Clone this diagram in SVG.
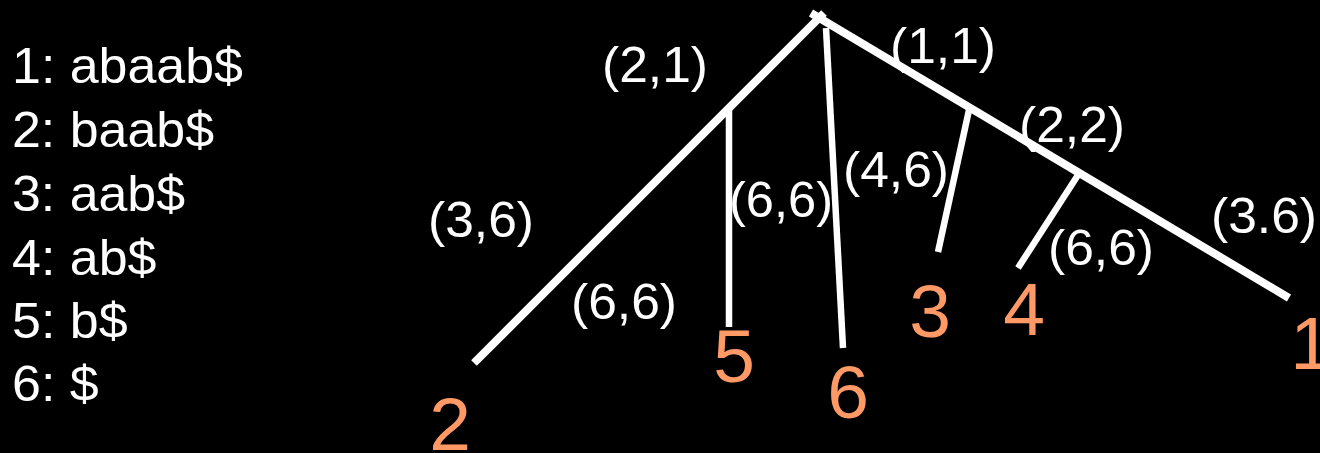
<svg xmlns="http://www.w3.org/2000/svg" width="1320" height="453" viewBox="0 0 1320 453">
<style>
.list{font-family:"Liberation Sans",Arial,sans-serif;font-size:50px;fill:#ffffff}
.lbl{font-family:"Liberation Sans",Arial,sans-serif;font-size:50px;fill:#ffffff}
.leaf{font-family:"Liberation Sans",Arial,sans-serif;font-size:75px;fill:#ff9966;text-anchor:middle}
.edge{stroke:#ffffff;fill:none;stroke-linecap:butt}
.thick{stroke-width:8}
.thin{stroke-width:6.5}
</style>
<rect x="0" y="0" width="1320" height="453" fill="#000000"/>
<g id="suffixes">
<text class="list" x="12" y="83" textLength="231" lengthAdjust="spacingAndGlyphs">1: abaab$</text>
<text class="list" x="12" y="147" textLength="202" lengthAdjust="spacingAndGlyphs">2: baab$</text>
<text class="list" x="12" y="211" textLength="173" lengthAdjust="spacingAndGlyphs">3: aab$</text>
<text class="list" x="12" y="275" textLength="144.5" lengthAdjust="spacingAndGlyphs">4: ab$</text>
<text class="list" x="12" y="338" textLength="115.6" lengthAdjust="spacingAndGlyphs">5: b$</text>
<text class="list" x="12" y="401" textLength="86.7" lengthAdjust="spacingAndGlyphs">6: $</text>
</g>
<g id="connectors">
<line class="edge thick" x1="474" y1="363" x2="824" y2="13"/>
<line class="edge thick" x1="811" y1="13" x2="1289" y2="298"/>
<line class="edge thin" x1="729" y1="108" x2="729" y2="327"/>
<line class="edge thin" x1="826" y1="28" x2="843" y2="348"/>
<line class="edge thin" x1="969" y1="110" x2="938" y2="252"/>
<line class="edge thin" x1="1078" y1="175" x2="1018" y2="268"/>
</g>
<g id="edge-labels">
<text class="lbl" x="602" y="82" textLength="106" lengthAdjust="spacingAndGlyphs">(2,1)</text>
<text class="lbl" x="890" y="63" textLength="106" lengthAdjust="spacingAndGlyphs">(1,1)</text>
<text class="lbl" x="1019" y="142" textLength="106" lengthAdjust="spacingAndGlyphs">(2,2)</text>
<text class="lbl" x="843" y="187" textLength="106" lengthAdjust="spacingAndGlyphs">(4,6)</text>
<text class="lbl" x="1211" y="233" textLength="106" lengthAdjust="spacingAndGlyphs">(3.6)</text>
<text class="lbl" x="1048" y="265" textLength="106" lengthAdjust="spacingAndGlyphs">(6,6)</text>
<text class="lbl" x="428" y="237" textLength="106" lengthAdjust="spacingAndGlyphs">(3,6)</text>
<text class="lbl" x="571" y="319" textLength="106" lengthAdjust="spacingAndGlyphs">(6,6)</text>
<text class="lbl" x="729" y="217" textLength="104" lengthAdjust="spacingAndGlyphs">(6,6)</text>
</g>
<g id="leaf-2"><text class="leaf" x="450" y="450">2</text></g>
<g id="leaf-5"><text class="leaf" x="734" y="382">5</text></g>
<g id="leaf-6"><text class="leaf" x="848" y="418">6</text></g>
<g id="leaf-3"><text class="leaf" x="930" y="337">3</text></g>
<g id="leaf-4"><text class="leaf" x="1024" y="335">4</text></g>
<g id="leaf-1"><text class="leaf" x="1311" y="369">1</text></g>
</svg>
